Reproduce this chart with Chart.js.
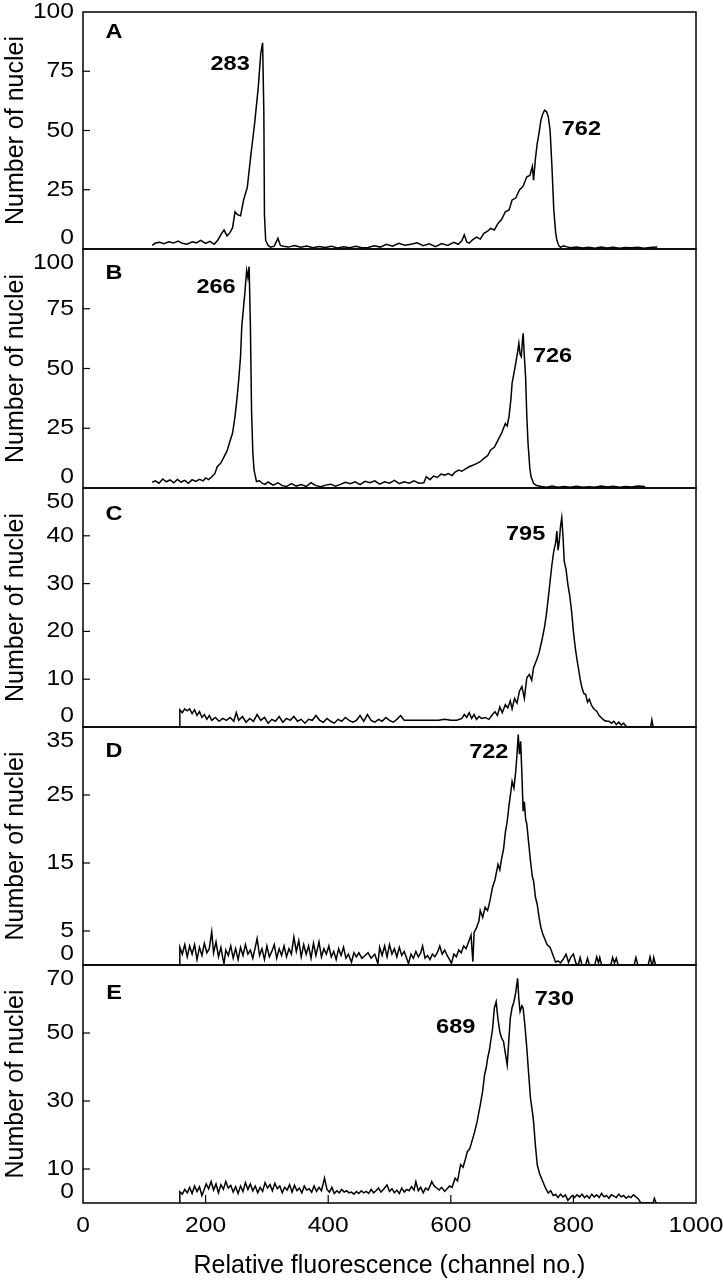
<!DOCTYPE html>
<html>
<head>
<meta charset="utf-8">
<script src="https://cdn.jsdelivr.net/npm/chart.js@4.4.0/dist/chart.umd.min.js"></script>
<style>
  html, body { margin: 0; padding: 0; background: #fff; }
  #wrap { position: relative; width: 723px; height: 1280px; overflow: hidden; background: #fff; }
  #wrap canvas { position: absolute; left: 0; top: 0; }
</style>
</head>
<body>
<div id="wrap"></div>
<script>
// --- Data (channel no. vs number of nuclei) ---

const chA = [113,118,125,132,140,148,155,162,170,178,
  185,192,200,207,214,220,226,230,235,240,
  244,248,252,257,262,268,274,280,286,290,
  293,295,296,298,302,306,312,318,322,327,
  335,345,355,365,375,385,395,405,415,425,
  435,445,455,465,475,485,495,505,515,525,
  535,545,555,565,575,585,595,605,612,618,
  622,626,630,636,642,648,654,660,665,671,
  677,683,689,695,700,706,712,718,724,729,
  733,735,738,741,744,747,750,753,756,759,
  762,765,768,771,773,776,779,784,788,795,
  805,815,825,835,845,855,865,875,885,895,
  905,915,925,937];
const nA = [1.5,2.5,2.8,2.2,3.0,2.5,3.3,2.4,2.0,3.0,
  2.6,3.6,2.4,3.2,2.0,3.8,6.5,8.0,5.5,7.0,
  9.0,15.7,14.5,14.0,20.7,26,40,53,68.5,82.6,
  87,58,14.5,3.7,1.5,0.8,1.2,4.5,1.5,1.2,
  0.8,1.5,0.7,1.3,0.5,1.0,0.6,1.2,0.4,0.9,
  0.5,1.1,0.5,0.6,1.4,0.8,2.0,1.2,2.4,1.6,
  2.0,2.6,1.4,2.2,1.0,2.3,1.5,2.8,2.0,3.5,
  6.0,3.0,2.5,4.0,5.0,4.2,6.6,7.5,8.7,8.0,
  10.8,12.5,15.7,16.5,20.7,21.5,24.9,26.5,30.5,31.0,
  34.8,29.0,38.0,44.6,49.0,54.4,57.0,58.6,58.0,55.8,
  50.0,34.8,16.5,7.0,3.8,1.5,0.7,1.3,1.0,0.5,
  0.8,0.4,0.7,0.3,0.8,0.4,0.7,0.3,0.6,0.5,
  0.7,0.3,0.6,0.8];

const chB = [113,118,124,130,136,142,148,154,160,166,
  172,178,184,190,196,200,205,210,215,219,
  225,230,235,239,244,248,251,254,257,259,
  262,264,267,269,271,273,275,277,279,283,
  288,292,297,302,310,318,325,332,340,348,
  356,364,372,380,388,396,404,412,420,428,
  436,444,452,460,468,476,484,492,500,508,
  516,524,532,540,548,556,560,566,572,578,
  584,590,596,602,607,613,618,624,630,636,
  642,648,654,660,665,671,677,683,689,692,
  695,698,700,703,706,709,711,713,715,717,
  718,720,722,724,726,729,731,735,740,748,
  756,765,775,785,795,805,815,825,835,845,
  855,865,875,885,895,905,917];
const nB = [2.4,3.0,2.0,3.8,2.6,3.4,2.2,3.6,2.5,3.2,
  2.0,3.5,2.8,3.6,3.0,4.2,3.5,4.7,6.0,8.9,
  10.5,13,15.5,18.9,23,30,37,45.2,55,67.5,
  76,81.5,91,88,92.6,69,32,15,7.6,2.7,
  3.0,2.0,1.5,2.5,1.2,2.2,1.0,0.6,1.8,0.8,
  1.4,0.6,2.2,1.0,0.5,1.2,1.6,0.8,1.5,2.4,
  1.8,2.6,1.4,2.8,2.2,3.0,1.6,2.6,2.0,3.2,
  1.8,2.6,2.0,3.0,2.0,2.2,4.7,3.5,5.0,4.4,
  5.8,5.4,6.0,5.2,6.7,7.5,7.0,8.0,8.9,9.5,
  10.2,11.0,12.4,13.5,15.9,17.0,20.0,23.0,27.0,26.0,
  30.0,37.0,43.9,48.0,52.2,57.0,60.6,56.0,55.0,62.0,
  64.7,55.0,46.6,30.0,18.7,8.0,4.7,2.0,1.0,0.6,
  0.3,0.8,0.3,0.6,0.3,0.7,0.3,0.5,0.3,0.8,
  0.4,0.7,0.3,0.6,0.4,0.8,0.6];

const chC = [157,158,162,166,170,174,178,182,186,190,
  194,198,202,206,210,216,222,228,234,240,
  246,250,254,260,266,272,278,284,290,296,
  302,308,314,320,326,332,338,344,350,356,
  362,368,374,380,386,392,398,404,410,416,
  422,428,434,440,446,452,458,464,470,476,
  482,488,494,500,506,512,518,524,540,560,
  580,590,600,610,618,622,626,630,634,638,
  642,646,650,656,662,668,672,676,680,684,
  689,693,697,700,704,708,712,716,720,724,
  728,732,735,740,744,747,750,753,756,759,
  762,765,768,771,773,775,777,779,781,783,
  785,788,791,794,797,800,803,806,808,811,
  814,817,820,823,826,829,832,835,838,842,
  846,850,854,858,862,866,870,874,878,882,
  887,926,928,930];
const nC = [0,3.6,3.0,3.8,3.4,3.8,2.8,3.6,2.4,3.2,
  2.0,2.6,1.6,2.4,1.4,2.0,1.2,1.8,1.4,2.0,
  1.2,3.0,1.4,2.2,1.0,1.8,1.2,2.6,1.4,2.0,
  0.8,1.6,1.2,2.2,1.0,1.8,1.4,2.2,1.2,1.6,
  0.8,1.6,1.4,2.4,1.4,1.0,1.8,1.2,0.8,1.6,
  1.2,2.0,1.4,1.0,1.4,2.4,1.2,2.6,1.4,1.0,
  1.6,1.2,2.0,1.4,1.0,1.6,2.4,1.4,1.4,1.4,
  1.4,1.6,1.4,1.4,1.8,2.6,2.0,3.0,1.8,2.6,
  1.6,2.2,1.8,2.0,1.6,2.6,3.2,2.4,4.2,3.0,
  4.7,4.0,5.5,3.8,6.0,5.0,7.5,8.5,6.0,10.3,
  11.0,9.8,12.4,14.0,15.5,17.2,19.0,21.0,23.6,27.0,
  30.5,34.0,36.8,38.5,41.0,37.0,38.9,42.0,43.8,40.0,
  34.7,33.0,29.8,27.5,24.3,20.0,16.6,14.0,12.4,10.0,
  8.2,7.0,6.8,5.2,5.8,4.7,4.0,3.6,3.3,2.4,
  1.9,1.4,1.2,1.2,0.8,1.2,0.5,1.0,0.4,0.8,
  0,0,1.5,0];

const chD = [157,158,162,166,170,174,178,182,186,190,
  194,198,202,206,210,213,217,221,225,228,
  230,233,237,241,245,249,253,257,261,265,
  269,273,277,281,284,288,292,296,300,304,
  308,312,316,320,324,328,332,336,340,344,
  348,352,356,360,364,368,372,376,380,385,
  389,393,397,401,405,409,413,417,421,425,
  429,433,438,442,446,450,455,460,465,470,
  476,481,484,488,492,496,500,504,508,512,
  516,520,524,528,531,535,539,543,547,551,
  554,558,562,566,570,574,578,582,586,590,
  594,598,601,605,609,613,617,621,625,629,
  633,636,638,642,646,648,652,656,660,664,
  668,672,677,680,683,686,689,692,695,698,
  700,703,706,708,710,712,714,716,718,720,
  722,724,727,730,733,735,738,741,744,747,
  750,753,757,762,766,771,775,779,783,788,
  792,796,800,804,808,811,814,820,823,826,
  835,838,841,843,846,861,864,867,870,873,
  899,902,905,922,925,928,929,931,934];
const nD = [0,2.6,1.6,3.0,1.2,2.8,1.6,3.0,0.8,2.6,
  1.4,3.2,1.8,2.4,4.9,1.8,3.4,1.2,2.6,1.0,
  0.2,2.2,1.4,2.8,1.0,2.4,0.8,2.6,1.4,3.0,
  1.6,2.2,1.0,2.6,3.9,1.4,2.4,0.8,2.8,1.2,
  2.0,3.0,1.0,2.4,1.4,2.8,1.2,2.4,1.6,4.1,
  2.0,3.6,1.2,3.0,1.6,2.8,1.0,3.2,1.4,3.4,
  1.2,2.4,1.6,2.8,1.2,2.0,0.8,2.4,1.4,2.6,
  1.0,1.6,0.4,1.8,1.2,1.8,1.0,1.4,1.8,1.0,
  1.6,0.2,2.6,1.4,2.8,1.2,3.0,1.6,2.4,1.2,
  2.6,1.4,2.0,1.0,0.2,1.6,1.0,2.0,1.2,1.8,
  2.8,1.0,1.4,0.8,1.6,1.2,1.8,2.8,1.6,2.2,
  1.4,0.8,0.2,1.6,1.2,2.2,1.8,2.8,2.4,3.4,
  4.4,0.5,4.8,5.5,6.5,8.0,7.0,8.5,8.0,9.5,
  11.4,12.5,14.8,14.0,15.7,17.0,19.5,21.1,23.5,25.5,
  27.0,26.0,28.5,31.0,33.9,31.0,32.9,28.0,22.6,24.0,
  21.5,20.7,18.0,15.3,13.0,12.4,10.0,8.9,7.0,5.5,
  4.6,3.9,3.0,2.6,1.6,0.4,0.6,0.3,0.8,1.6,
  0.4,1.2,1.6,0.3,0,1.1,0,0,1.0,0,
  0,1.2,0.3,1.1,0,0,1.1,0.3,1.0,0,
  0,1.1,0,0,1.2,0,0,1.1,0];

const chE = [157,158,162,166,170,174,178,182,186,190,
  194,197,201,205,209,213,217,221,225,229,
  233,237,241,245,249,253,257,261,265,269,
  273,277,281,285,289,293,297,301,305,309,
  313,317,321,325,329,333,337,341,345,349,
  353,357,361,365,369,373,377,381,385,389,
  394,398,402,406,410,414,418,422,426,430,
  434,438,442,446,450,454,458,462,466,470,
  474,478,482,486,490,496,500,504,508,512,
  516,520,524,528,532,536,540,543,547,551,
  555,559,563,567,569,573,577,581,585,590,
  594,598,602,607,611,616,620,624,627,631,
  635,639,643,648,652,655,658,660,663,665,
  668,671,674,677,680,683,686,689,692,694,
  697,700,703,706,709,711,713,716,718,721,
  724,727,730,733,735,738,741,745,750,755,
  759,763,767,771,775,779,783,787,791,794,
  798,802,806,810,814,818,822,826,830,834,
  838,842,846,850,854,858,862,866,870,874,
  878,882,886,890,894,898,902,906,910,930,
  932,935];
const nE = [0,3.3,2.6,4.0,3.0,4.6,2.8,5.0,3.4,4.8,
  2.2,3.6,5.6,4.2,6.3,3.8,5.6,3.0,5.4,4.0,
  6.3,4.4,5.2,3.2,4.8,2.8,5.0,3.4,6.0,4.0,
  5.6,3.6,5.0,3.0,4.6,3.4,6.0,4.4,5.4,3.6,
  5.8,4.2,5.0,3.0,4.6,3.8,5.4,3.2,5.2,3.6,
  4.4,3.0,5.0,3.8,4.2,3.2,5.0,3.4,4.6,3.6,
  7.3,4.0,3.2,4.6,2.8,3.6,3.0,4.0,3.2,3.6,
  3.0,3.2,2.6,3.4,2.8,3.6,3.0,3.4,2.8,4.0,
  3.0,3.6,4.4,3.2,4.0,5.3,3.4,4.2,3.0,3.8,
  2.8,4.4,3.2,4.0,3.6,4.8,3.8,6.3,3.6,4.6,
  3.0,4.4,3.8,5.4,6.3,5.0,4.4,3.8,4.6,3.4,
  4.2,5.0,4.6,7.3,6.5,11.3,10.5,13.0,15.1,16.0,
  18.5,21.0,24.0,28.8,33.0,37.6,40.0,42.5,45.0,47.5,
  51.0,57.3,59.2,54.0,50.3,48.5,47.5,44.0,40.6,46.0,
  54.3,57.5,59.2,62.0,66.1,60.0,56.3,58.0,57.3,52.0,
  45.5,38.0,30.8,27.0,24.0,17.0,11.3,8.5,6.3,4.2,
  2.9,3.6,2.2,2.5,1.6,2.6,1.8,2.4,0.8,1.4,
  2.2,1.6,2.4,1.8,2.6,1.6,2.2,1.4,2.6,1.8,
  2.4,1.6,2.8,1.8,2.2,1.4,2.4,2.0,1.6,2.6,
  1.8,2.2,1.4,2.0,1.6,2.4,1.8,1.2,0,0,
  1.4,0];

// y tick labels per panel
const yTicksA = [0, 25, 50, 75, 100];
const yTicksB = [0, 25, 50, 75, 100];
const yTicksC = [0, 10, 20, 30, 40, 50];
const yTicksD = [0, 5, 15, 25, 35];
const yTicksE = [0, 10, 30, 50, 70];
const xTicks = [0, 200, 400, 600, 800, 1000];

const panelLetters = ['A', 'B', 'C', 'D', 'E'];
// peak annotations: [text, channel, count]
const peaksA = [['283', 240, 78], ['762', 813, 50.6]];
const peaksB = [['266', 217, 84], ['726', 766, 55.2]];
const peaksC = [['795', 722, 40.3]];
const peaksD = [['722', 662, 31.3]];
const peaksE = [['689', 608, 51.8], ['730', 769, 60]];

// --- Layout ---
const W = 723, H = 1280;
const PLOT_LEFT = 83, PLOT_RIGHT = 696;
const panelTops = [12, 249, 488, 727, 965];
const panelBottoms = [249, 488, 727, 965, 1203];
const letterDy = [20, 24, 26, 24, 28];

const TICK_FONT = '22px "Liberation Sans", Arial, sans-serif';
const BOLD_FONT = 'bold 21px "Liberation Sans", Arial, sans-serif';
const TITLE_FONT = '25px "Liberation Sans", Arial, sans-serif';
const SX = 1.12; // the figure's labels look horizontally stretched

function drawText(ctx, txt, x, y, font, align, sx) {
    ctx.save();
    ctx.translate(x, y);
    ctx.scale(sx, 1);
    ctx.font = font;
    ctx.fillStyle = '#000';
    ctx.textAlign = align;
    ctx.textBaseline = 'middle';
    ctx.fillText(txt, 0, 0);
    ctx.restore();
}

const panels = [
    { ch: chA, n: nA, max: 100, ticks: yTicksA, peaks: peaksA },
    { ch: chB, n: nB, max: 100, ticks: yTicksB, peaks: peaksB },
    { ch: chC, n: nC, max: 50, ticks: yTicksC, peaks: peaksC },
    { ch: chD, n: nD, max: 35, ticks: yTicksD, peaks: peaksD },
    { ch: chE, n: nE, max: 70, ticks: yTicksE, peaks: peaksE }
];

// frame, ticks and all text
const axesPlugin = {
    id: 'axesPlugin',
    afterDraw(chart, args, opts) {
        const ctx = chart.ctx;
        const area = chart.chartArea;
        const xs = chart.scales.x, ys = chart.scales.y;
        const idx = opts.index;
        const p = panels[idx];

        ctx.save();
        ctx.strokeStyle = '#000';
        ctx.lineWidth = 1.5;
        ctx.strokeRect(area.left, area.top, area.right - area.left, area.bottom - area.top);

        // y ticks (inward) + labels
        ctx.lineWidth = 1.2;
        p.ticks.forEach((t, i) => {
            const y = ys.getPixelForValue(t);
            if (t !== 0 && t !== p.max) {
                ctx.beginPath();
                ctx.moveTo(area.left, y);
                ctx.lineTo(area.left + 7, y);
                ctx.stroke();
            }
            let ly = y;
            if (i === 0) ly -= 11;
            if (i === p.ticks.length - 1 && idx > 0) ly += 14;
            drawText(ctx, String(t), 74, ly, TICK_FONT, 'right', SX);
        });

        // y title
        ctx.save();
        ctx.translate(23, (area.top + area.bottom) / 2);
        ctx.rotate(-Math.PI / 2);
        ctx.font = TITLE_FONT;
        ctx.fillStyle = '#000';
        ctx.textAlign = 'center';
        ctx.textBaseline = 'alphabetic';
        ctx.fillText('Number of nuclei', 0, 0);
        ctx.restore();

        // panel letter
        drawText(ctx, panelLetters[idx], area.left + 31, area.top + letterDy[idx], BOLD_FONT, 'center', SX);

        // peak labels
        p.peaks.forEach(pk => {
            drawText(ctx, pk[0], xs.getPixelForValue(pk[1]), ys.getPixelForValue(pk[2]), BOLD_FONT, 'center', SX);
        });

        // x axis only on bottom panel
        if (idx === panels.length - 1) {
            xTicks.forEach(t => {
                const x = xs.getPixelForValue(t);
                if (t !== 0 && t !== 1000) {
                    ctx.beginPath();
                    ctx.moveTo(x, area.bottom);
                    ctx.lineTo(x, area.bottom - 8);
                    ctx.stroke();
                }
                drawText(ctx, String(t), x, area.bottom + 23, TICK_FONT, 'center', SX);
            });
            drawText(ctx, 'Relative fluorescence (channel no.)', (area.left + area.right) / 2,
                area.bottom + 63, TITLE_FONT, 'center', 1);
        }
        ctx.restore();
    }
};

const wrap = document.getElementById('wrap');

panels.forEach((p, i) => {
    const canvas = document.createElement('canvas');
    canvas.width = W;
    canvas.height = H;
    canvas.style.width = W + 'px';
    canvas.style.height = H + 'px';
    wrap.appendChild(canvas);

    new Chart(canvas, {
        type: 'line',
        data: {
            datasets: [{
                data: p.ch.map((c, k) => ({ x: c, y: p.n[k] })),
                borderColor: '#000',
                borderWidth: 1.5,
                pointRadius: 0,
                tension: 0,
                fill: false
            }]
        },
        options: {
            responsive: false,
            animation: false,
            devicePixelRatio: 1,
            layout: {
                padding: { left: PLOT_LEFT, right: W - PLOT_RIGHT, top: panelTops[i], bottom: H - panelBottoms[i] }
            },
            plugins: {
                legend: { display: false },
                tooltip: { enabled: false },
                axesPlugin: { index: i }
            },
            scales: {
                x: { type: 'linear', min: 0, max: 1000, display: false },
                y: { type: 'linear', min: 0, max: p.max, display: false }
            }
        },
        plugins: [axesPlugin]
    });
});
</script>
</body>
</html>
